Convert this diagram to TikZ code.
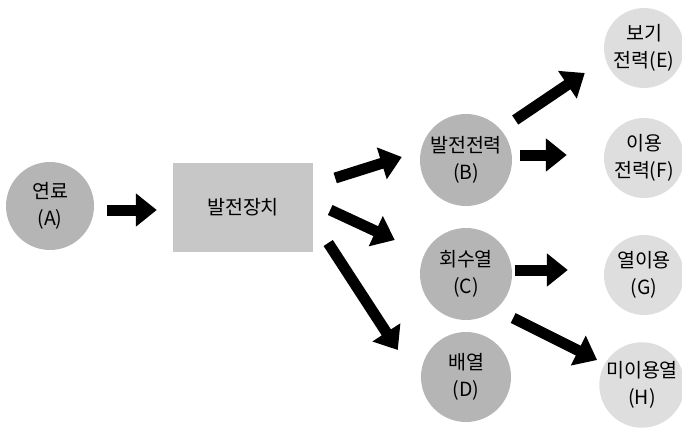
\documentclass[tikz,border=0pt]{standalone}
\usepackage{fontspec}
\newfontfamily\krfont{Noto Sans CJK KR}
\usetikzlibrary{arrows.meta}
\begin{document}
\begin{tikzpicture}[x=1pt,y=-1pt,
  lbl/.style={font=\krfont\fontsize{19.5}{27}\selectfont, align=center, text=black},
  darkc/.style={circle, fill=black!29, inner sep=0pt, lbl},
  lightc/.style={circle, fill=black!13, inner sep=0pt, lbl},
  boxn/.style={rectangle, fill=black!22, inner sep=0pt, minimum width=140pt, minimum height=89pt, lbl},
  blk/.style={line width=11pt, black, -{Triangle[length=21pt,width=32pt]}}
]
\useasboundingbox (0,0) rectangle (682,428);
\node[darkc, minimum size=88pt] (A) at (50,206) {연료\\(A)};
\node[boxn] (P) at (243,207.5) {발전장치};
\node[darkc, minimum size=92pt] (B) at (466,160) {발전전력\\(B)};
\node[darkc, minimum size=92pt] (C) at (466,274) {회수열\\(C)};
\node[darkc, minimum size=90pt] (D) at (466,377) {배열\\(D)};
\node[lightc, minimum size=80pt] (E) at (644,48) {보기\\전력(E)};
\node[lightc, minimum size=80pt] (F) at (644,158) {이용\\전력(F)};
\node[lightc, minimum size=80pt] (G) at (644,275) {열이용\\(G)};
\node[lightc, minimum size=84pt] (H) at (642,385) {미이용열\\(H)};

\draw[blk] ([shift={(13,4)}]A.east) -- ([shift={(-16,2.5)}]P.west);
\draw[blk] ([shift={(22,-29.5)}]P.east) -- ([shift={(-18,-3)}]B.west);
\draw[blk] ([shift={(17,2.5)}]P.east) -- ([shift={(-25,-34)}]C.west);
\draw[blk] ([shift={(15,35.5)}]P.east) -- ([shift={(-23,-27)}]D.west);
\draw[blk] ([shift={(3,-40)}]B.east) -- ([shift={(-19,25)}]E.west);
\draw[blk] ([shift={(8,-5)}]B.east) -- ([shift={(-37,-3)}]F.west);
\draw[blk] ([shift={(3,-4)}]C.east) -- ([shift={(-36,-5)}]G.west);
\draw[blk] ([shift={(1,44)}]C.east) -- ([shift={(-2,-25)}]H.west);
\end{tikzpicture}
\end{document}
